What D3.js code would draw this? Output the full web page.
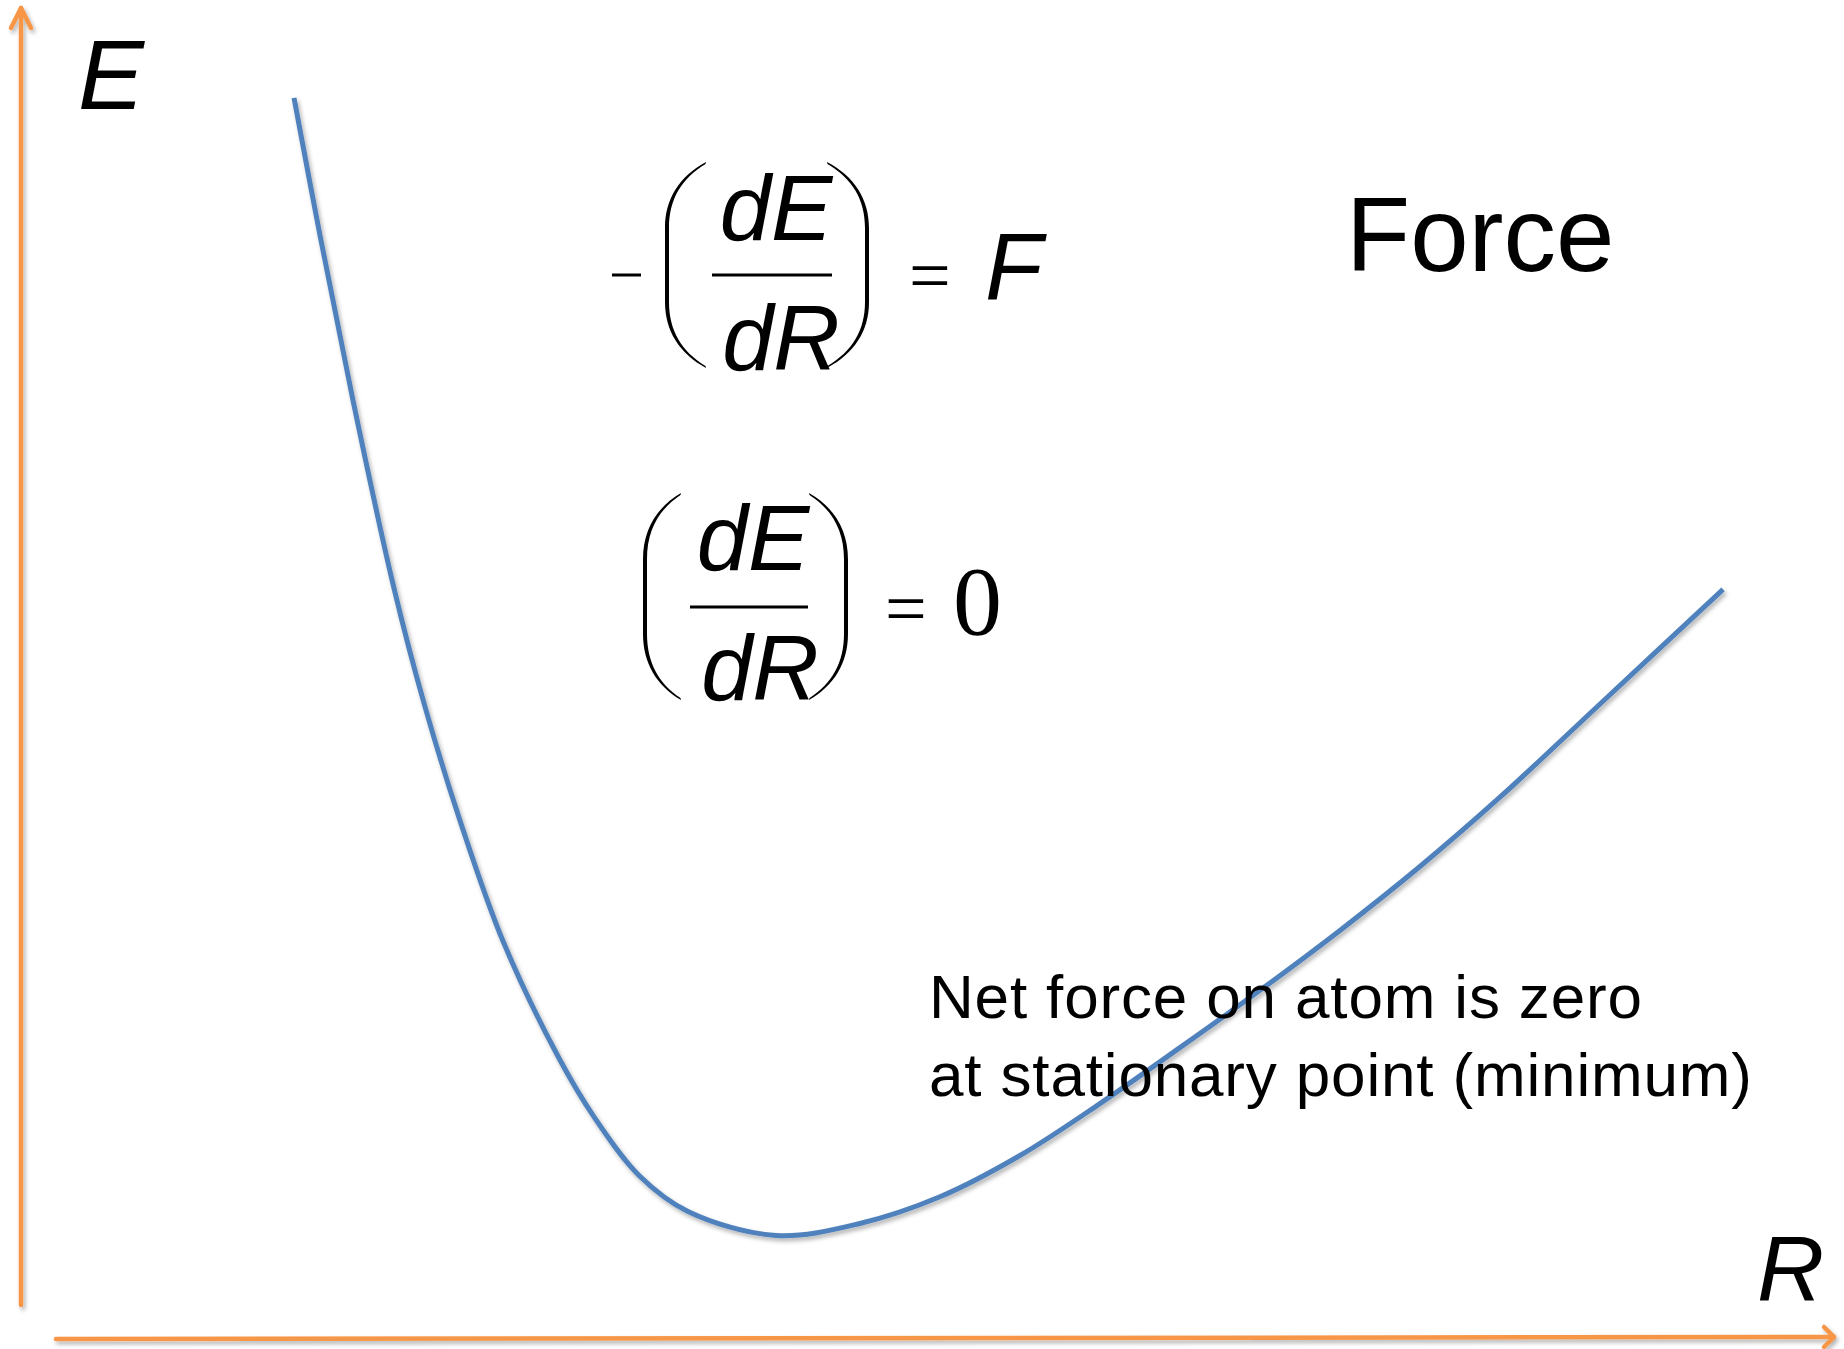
<!DOCTYPE html>
<html>
<head>
<meta charset="utf-8">
<script src="https://cdn.jsdelivr.net/npm/d3@7"></script>
<style>
  html, body { margin: 0; padding: 0; background: #fff; }
  svg { display: block; }
</style>
</head>
<body>
<svg id="chart" width="1844" height="1349"></svg>
<script>
// ---- data (arbitrary units 0..10) ----
const R_values = [1.505, 1.648, 1.830, 2.056, 2.227, 2.426, 2.657, 2.966, 3.159, 3.407, 3.677, 4.162, 4.625, 5.066, 5.507, 5.948, 6.389, 6.830, 7.271, 7.712, 8.153, 8.705, 9.383];
const E_values = [9.31, 8.28, 7.04, 5.63, 4.74, 3.86, 2.98, 2.10, 1.66, 1.22, 0.95, 0.77, 0.86, 1.06, 1.37, 1.76, 2.18, 2.61, 3.06, 3.54, 4.06, 4.76, 5.62];
const axisLabels = ["R", "E"];
const noteLines = ["Net force on atom is zero", "at stationary point (minimum)"];
const titleText = "Force";

const W = 1844, H = 1349;
const svg = d3.select("#chart");
const x = d3.scaleLinear().domain([0, 10]).range([21, 1835]);
const y = d3.scaleLinear().domain([0, 10]).range([1338, 6]);

const defs = svg.append("defs");
const f = defs.append("filter").attr("id", "shadow").attr("x", "-5%").attr("y", "-5%").attr("width", "110%").attr("height", "110%");
f.append("feDropShadow").attr("dx", 2).attr("dy", 3).attr("stdDeviation", 2)
  .attr("flood-color", "#000").attr("flood-opacity", 0.3);

const orange = "#F79646", blue = "#4F81BD";

// ---- axes ----
const axes = svg.append("g").attr("filter", "url(#shadow)")
  .attr("stroke", orange).attr("stroke-width", 4.5).attr("fill", "none")
  .attr("stroke-linecap", "round").attr("stroke-linejoin", "round");
axes.append("line").attr("x1", 21).attr("y1", 1305).attr("x2", 21).attr("y2", 8);
axes.append("path").attr("d", "M11,28 L21,8 L31,28");
axes.append("line").attr("x1", 56).attr("y1", 1339).attr("x2", 1834).attr("y2", 1337);
axes.append("path").attr("d", "M1824,1327 L1834,1337 L1824,1347");

// ---- curve ----
const pts = R_values.map((r, i) => [r, E_values[i]]);
const line = d3.line().x(d => x(d[0])).y(d => y(d[1])).curve(d3.curveCatmullRom.alpha(0.5));
svg.append("path").datum(pts).attr("d", line)
  .attr("fill", "none").attr("stroke", blue).attr("stroke-width", 5)
  .attr("filter", "url(#shadow)");

// ---- axis labels ----
const sans = "'Liberation Sans', Arial, sans-serif";
const serif = "'Liberation Serif', 'Times New Roman', serif";
svg.append("text").attr("x", 78).attr("y", 109).attr("font-family", sans)
  .attr("font-style", "italic").attr("font-size", 99).text(axisLabels[1]);
svg.append("text").attr("x", 1757).attr("y", 1301).attr("font-family", sans)
  .attr("font-style", "italic").attr("font-size", 93).text(axisLabels[0]);

// ---- title ----
svg.append("text").attr("x", 1346).attr("y", 271).attr("font-family", sans)
  .attr("font-size", 105).text(titleText);

// ---- note ----
svg.append("text").attr("x", 929).attr("y", 1018).attr("font-family", sans)
  .attr("font-size", 62).attr("textLength", 713).text(noteLines[0]);
svg.append("text").attr("x", 929).attr("y", 1096).attr("font-family", sans)
  .attr("font-size", 62).attr("textLength", 823).text(noteLines[1]);

// ---- parentheses helper ----
function paren(x0, x1, y0, y1, side) {
  const h = y1 - y0, w = 4, dx = x1 - x0;
  const ym1 = y0 + h * 0.32, ym2 = y1 - h * 0.32;
  const s = side === "left" ? 1 : -1;
  const p = d3.path();
  p.moveTo(x1, y0);
  p.bezierCurveTo(x0 + dx * 0.35, y0 + h * 0.07, x0, ym1 - h * 0.14, x0, ym1);
  p.lineTo(x0, ym2);
  p.bezierCurveTo(x0, ym2 + h * 0.14, x0 + dx * 0.35, y1 - h * 0.07, x1, y1);
  p.lineTo(x1 - s * 0.5, y1 - 2);
  p.bezierCurveTo(x0 + s * w * 0.6 + dx * 0.35, y1 - h * 0.08, x0 + s * w, ym2 + h * 0.14, x0 + s * w, ym2);
  p.lineTo(x0 + s * w, ym1);
  p.bezierCurveTo(x0 + s * w, ym1 - h * 0.14, x0 + s * w * 0.6 + dx * 0.35, y0 + h * 0.08, x1 - s * 0.5, y0 + 2);
  p.closePath();
  return p.toString();
}

function equation(g, o) {
  g.append("path").attr("d", paren(o.lp[0], o.lp[1], o.py[0], o.py[1], "left")).attr("fill", "#000");
  g.append("path").attr("d", paren(o.rp[0], o.rp[1], o.py[0], o.py[1], "right")).attr("fill", "#000");
  g.append("line").attr("x1", o.bar[0]).attr("x2", o.bar[1]).attr("y1", o.bar[2]).attr("y2", o.bar[2])
    .attr("stroke", "#000").attr("stroke-width", 3);
  g.append("text").attr("x", o.num[0]).attr("y", o.num[1]).attr("text-anchor", "middle")
    .attr("font-family", sans).attr("font-style", "italic").attr("font-size", 92).text("dE");
  g.append("text").attr("x", o.den[0]).attr("y", o.den[1]).attr("text-anchor", "middle")
    .attr("font-family", sans).attr("font-style", "italic").attr("font-size", 92).text("dR");
  g.append("text").attr("x", o.eq[0]).attr("y", o.eq[1])
    .attr("font-family", serif).attr("font-size", 74).text("=");
}

const g1 = svg.append("g");
g1.append("line").attr("x1", 612).attr("x2", 641).attr("y1", 275).attr("y2", 275)
  .attr("stroke", "#000").attr("stroke-width", 3);
equation(g1, { lp: [665, 706], rp: [869, 827], py: [162, 368], bar: [712, 832, 275],
  num: [776, 240], den: [781, 370], eq: [909, 300] });
g1.append("text").attr("x", 985).attr("y", 299).attr("font-family", sans)
  .attr("font-style", "italic").attr("font-size", 94).text("F");

const g2 = svg.append("g");
equation(g2, { lp: [643, 681], rp: [848, 809], py: [493, 700], bar: [690, 808, 607],
  num: [753, 570], den: [760, 700], eq: [885, 633] });
g2.append("text").attr("x", 953).attr("y", 634).attr("font-family", serif)
  .attr("font-size", 98).text("0");
</script>
</body>
</html>
